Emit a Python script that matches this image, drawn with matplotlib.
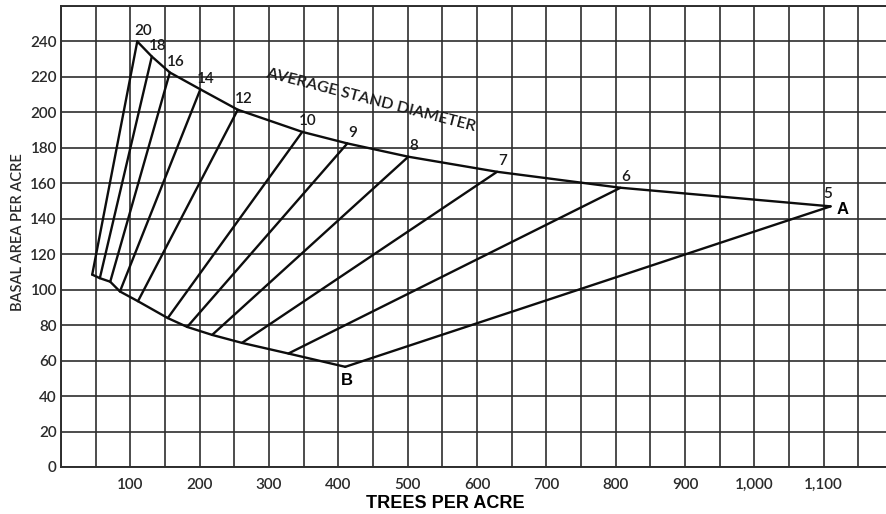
import matplotlib
matplotlib.use("Agg")
import matplotlib.pyplot as plt
from matplotlib.ticker import MultipleLocator, FixedLocator, FuncFormatter

# Stocking guide: average stand diameter lines between curve A (top) and B (bottom)
diameters = ['20', '18', '16', '14', '12', '10', '9', '8', '7', '6', '5']
upper_trees = [110, 131, 157, 201, 255, 348, 413, 501, 629, 807, 1110]
upper_ba = [240, 231.5, 222.5, 213, 201.5, 189, 182.5, 175, 166.5, 157.5, 147]
lower_trees = [45, 56, 71, 85, 111, 154, 182, 218, 261, 328, 410]
lower_ba = [108.5, 106.5, 104.5, 99, 93.5, 84, 79, 74.5, 70, 64, 56.5]

x_ticks = [100, 200, 300, 400, 500, 600, 700, 800, 900, 1000, 1100]
y_ticks = [0, 20, 40, 60, 80, 100, 120, 140, 160, 180, 200, 220, 240]

tick_font = 'Lato'
ink = '#0d0d0d'
grid_col = '#2e2e2e'

fig = plt.figure(figsize=(8.86, 5.14), dpi=100)
ax = fig.add_axes([61 / 886, 47 / 514, 825 / 886, 461 / 514])
ax.set_xlim(0, 1190)
ax.set_ylim(0, 260)

# grid
ax.xaxis.set_minor_locator(MultipleLocator(50))
ax.yaxis.set_minor_locator(MultipleLocator(20))
ax.grid(True, which='both', color=grid_col, lw=1.2)
ax.set_axisbelow(True)
for side in ['top', 'left', 'bottom']:
    ax.spines[side].set_color(grid_col)
    ax.spines[side].set_linewidth(1.4)
ax.spines['right'].set_visible(False)

ax.xaxis.set_major_locator(FixedLocator(x_ticks))
ax.yaxis.set_major_locator(FixedLocator(y_ticks))
ax.xaxis.set_major_formatter(FuncFormatter(lambda v, p: f'{int(v):,}'))
ax.tick_params(which='both', length=0)
ax.tick_params(axis='x', pad=8)
ax.tick_params(axis='y', pad=3)
for lab in ax.get_xticklabels() + ax.get_yticklabels():
    lab.set_fontfamily(tick_font)
    lab.set_fontsize(11)
    lab.set_fontweight('semibold')
    lab.set_color('#2a2a2a')

# curves
ax.plot(upper_trees, upper_ba, color=ink, lw=1.7, solid_capstyle='round')
ax.plot(lower_trees, lower_ba, color=ink, lw=1.7, solid_capstyle='round')
for ut, ub, lt, lb in zip(upper_trees, upper_ba, lower_trees, lower_ba):
    ax.plot([ut, lt], [ub, lb], color=ink, lw=1.7, solid_capstyle='round')

# diameter labels
for i, (d, ut, ub) in enumerate(zip(diameters, upper_trees, upper_ba)):
    off = (4, 7.5) if i < len(diameters) - 1 else (-2, 9)
    ax.annotate(d, (ut, ub), xytext=off, textcoords='offset points',
                ha='center', va='center', fontsize=11, family=tick_font,
                fontweight='semibold', color='#1a1a1a')

ax.annotate('A', (upper_trees[-1], upper_ba[-1]), xytext=(9, -2), textcoords='offset points',
            ha='center', va='center', fontsize=12, fontweight='bold', family='Liberation Sans')
ax.annotate('B', (lower_trees[-1], lower_ba[-1]), xytext=(1, -10), textcoords='offset points',
            ha='center', va='center', fontsize=12, fontweight='bold', family='Liberation Sans')

ax.text(446, 207, 'AVERAGE STAND DIAMETER', rotation=-14.5, rotation_mode='anchor',
        ha='center', va='center', fontsize=11.5, family=tick_font,
        fontweight='semibold', color='#1a1a1a')

fig.text(445 / 886, 1 - 503 / 514, 'TREES PER ACRE', ha='center', va='center',
         fontsize=13, fontweight='bold', family='Liberation Sans')
fig.text(18 / 886, 1 - 232 / 514, 'BASAL AREA PER ACRE', rotation=90, ha='center', va='center',
         fontsize=10.5, family=tick_font, fontweight='semibold', color='#2a2a2a')

fig.savefig('out.png', dpi=100)
